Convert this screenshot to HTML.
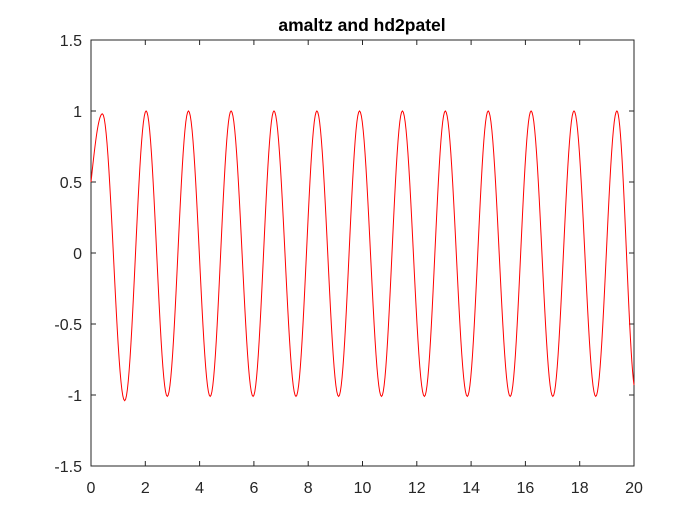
<!DOCTYPE html>
<html><head><meta charset="utf-8"><style>
body{margin:0;background:#fff;}
svg{display:block;font-family:"Liberation Sans",Arial,sans-serif;}
</style></head><body>
<svg id="chart" width="700" height="525" viewBox="0 0 700 525">
<rect x="0" y="0" width="700" height="525" fill="#fff"/>
<text x="362" y="31" text-anchor="middle" font-size="17.5" font-weight="bold" fill="#000">amaltz and hd2patel</text>
<g id="axes"></g>
<path id="curve" fill="none" stroke="#ff0000" stroke-width="1"/>
</svg>
<script>
var xTicks=[0,2,4,6,8,10,12,14,16,18,20];
var yTicks=[-1.5,-1,-0.5,0,0.5,1,1.5];
var yTickLabels=["-1.5","-1","-0.5","0","0.5","1","1.5"];
// extrema (plus start and end points)
var tVals=[0,0.42,1.24,2.03,2.81,3.59,4.39,5.16,5.97,6.74,7.55,8.32,9.12,9.89,10.70,11.47,12.28,13.05,13.86,14.63,15.44,16.21,17.01,17.79,18.59,19.37,20];
var yVals=[0.5,0.98,-1.04,1.0,-1.01,1.0,-1.01,1.0,-1.01,1.0,-1.01,1.0,-1.01,1.0,-1.01,1.0,-1.01,1.0,-1.01,1.0,-1.01,1.0,-1.01,1.0,-1.01,1.0,-0.93];
var L=91,R=634,T=40,B=466;
function sx(v){return L+(v-0)/(20-0)*(R-L);}
function sy(v){return B-(v+1.5)/3*(B-T);}
var NS="http://www.w3.org/2000/svg";
var ax=document.getElementById('axes');
function mk(tag,attrs,parent){var e=document.createElementNS(NS,tag);for(var k in attrs)e.setAttribute(k,attrs[k]);(parent||ax).appendChild(e);return e;}
var box=mk('rect',{x:L,y:T,width:R-L,height:B-T,fill:'none',stroke:'#262626','stroke-width':1});


xTicks.forEach(function(v){
  var x=sx(v);
  var t1=mk('line',{x1:x,y1:B,x2:x,y2:B-5,stroke:'#262626'});
  
  
  var t2=mk('line',{x1:x,y1:T,x2:x,y2:T+5,stroke:'#262626'});
  
  
  var tx=mk('text',{x:x,y:B+27,'text-anchor':'middle','font-size':16,fill:'#262626'});
  tx.textContent=String(v);
  
  
});
yTicks.forEach(function(v,i){
  var y=sy(v);
  var t1=mk('line',{x1:L,y1:y,x2:L+5,y2:y,stroke:'#262626'});
  
  
  var t2=mk('line',{x1:R,y1:y,x2:R-5,y2:y,stroke:'#262626'});
  
  
  var tx=mk('text',{x:L-9,y:y+6,'text-anchor':'end','font-size':16,fill:'#262626'});
  tx.textContent=yTickLabels[i];
  
  
});
var d='';
for(var i=0;i<tVals.length-1;i++){
  var t0=tVals[i],t1=tVals[i+1],y0=yVals[i],y1=yVals[i+1];
  var n=24;
  for(var j=(i==0?0:1);j<=n;j++){
    var f=j/n,t=t0+(t1-t0)*f;
    var s,y;
    if(i==0){ s=Math.sin(f*Math.PI/2); y=y0+(y1-y0)*s; }
    else if(i==tVals.length-2){ var span=Math.PI*0.9; s=(1-Math.cos(f*span))/(1-Math.cos(span)); y=y0+(y1-y0)*s; }
    else { s=(1-Math.cos(f*Math.PI))/2; y=y0+(y1-y0)*s; }
    d+=(d?'L':'M')+sx(t).toFixed(2)+','+sy(y).toFixed(2);
  }
}
document.getElementById('curve').setAttribute('d',d);
</script>
</body></html>
